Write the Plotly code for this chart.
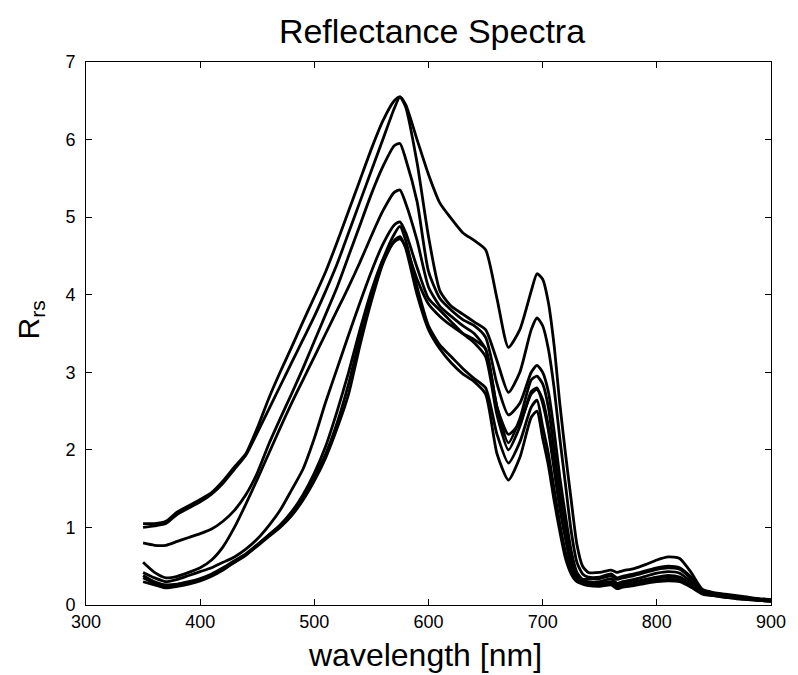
import plotly.graph_objects as go

wavelength = [350, 360, 370, 380, 390, 400, 410, 420, 430, 440, 450, 460, 470, 480, 490,
              500, 510, 520, 530, 540, 550, 560, 570, 575, 580, 590, 600, 610, 620, 630,
              640, 650, 660, 670, 680, 690, 695, 700, 705, 710, 715, 720, 725, 730, 735,
              740, 750, 760, 765, 770, 780, 790, 800, 810, 820, 830, 840, 850, 860, 870,
              880, 890, 900]

rrs_1 = [1.05, 1.05, 1.08, 1.20, 1.28, 1.36, 1.45, 1.60, 1.78, 1.95, 2.28, 2.66, 3.00, 3.32, 3.65,
         3.97, 4.30, 4.68, 5.08, 5.48, 5.88, 6.24, 6.50, 6.55, 6.45, 6.00, 5.55, 5.18, 4.98, 4.80,
         4.70, 4.58, 3.95, 3.32, 3.55, 4.05, 4.27, 4.20, 3.90, 3.35, 2.60, 1.95, 1.35, 0.78, 0.50,
         0.42, 0.42, 0.45, 0.42, 0.44, 0.47, 0.52, 0.58, 0.62, 0.60, 0.42, 0.20, 0.16, 0.14, 0.12,
         0.10, 0.08, 0.07]

rrs_2 = [1.00, 1.02, 1.05, 1.17, 1.25, 1.33, 1.43, 1.57, 1.75, 1.93, 2.22, 2.52, 2.82, 3.12, 3.42,
         3.72, 4.05, 4.40, 4.80, 5.20, 5.60, 6.00, 6.40, 6.55, 6.42, 5.70, 4.75, 4.05, 3.85, 3.75,
         3.65, 3.55, 3.15, 2.74, 3.00, 3.55, 3.70, 3.60, 3.30, 2.80, 2.15, 1.55, 0.95, 0.55, 0.40,
         0.36, 0.36, 0.40, 0.35, 0.37, 0.40, 0.44, 0.48, 0.50, 0.48, 0.36, 0.19, 0.15, 0.13, 0.11,
         0.09, 0.08, 0.065]

rrs_3 = [0.80, 0.77, 0.77, 0.82, 0.87, 0.92, 0.98, 1.08, 1.22, 1.42, 1.70, 2.07, 2.40, 2.72, 3.05,
         3.40, 3.75, 4.10, 4.50, 4.90, 5.30, 5.65, 5.92, 5.95, 5.75, 5.20, 4.30, 3.95, 3.80, 3.68,
         3.60, 3.45, 2.85, 2.45, 2.60, 3.00, 3.09, 3.00, 2.75, 2.25, 1.65, 1.15, 0.70, 0.42, 0.33,
         0.34, 0.34, 0.38, 0.33, 0.35, 0.38, 0.42, 0.46, 0.48, 0.46, 0.34, 0.18, 0.15, 0.12, 0.10,
         0.09, 0.07, 0.06]

rrs_4 = [0.55, 0.42, 0.35, 0.37, 0.42, 0.48, 0.58, 0.75, 1.00, 1.30, 1.62, 1.95, 2.28, 2.60, 2.90,
         3.20, 3.50, 3.80, 4.10, 4.42, 4.76, 5.08, 5.32, 5.35, 5.18, 4.70, 4.10, 3.85, 3.72, 3.60,
         3.50, 3.30, 2.55, 2.09, 2.40, 2.90, 2.95, 2.85, 2.55, 2.00, 1.45, 1.00, 0.62, 0.40, 0.32,
         0.30, 0.30, 0.34, 0.28, 0.30, 0.33, 0.37, 0.41, 0.43, 0.41, 0.30, 0.17, 0.14, 0.12, 0.10,
         0.08, 0.07, 0.06]

rrs_5 = [0.42, 0.35, 0.30, 0.33, 0.38, 0.43, 0.48, 0.55, 0.62, 0.72, 0.85, 1.02, 1.22, 1.48, 1.75,
         2.15, 2.62, 3.05, 3.48, 3.90, 4.30, 4.65, 4.90, 4.94, 4.80, 4.35, 3.95, 3.80, 3.65, 3.50,
         3.38, 3.20, 2.45, 2.00, 2.30, 2.75, 2.80, 2.60, 2.25, 1.75, 1.25, 0.85, 0.50, 0.35, 0.30,
         0.29, 0.28, 0.30, 0.26, 0.28, 0.30, 0.33, 0.36, 0.38, 0.36, 0.27, 0.16, 0.13, 0.11, 0.09,
         0.08, 0.06, 0.05]

rrs_6 = [0.38, 0.30, 0.26, 0.27, 0.30, 0.34, 0.40, 0.48, 0.57, 0.66, 0.78, 0.90, 1.02, 1.18, 1.38,
         1.65, 1.95, 2.35, 2.85, 3.45, 4.00, 4.45, 4.78, 4.88, 4.70, 4.10, 3.60, 3.35, 3.20, 3.05,
         2.92, 2.80, 2.20, 1.83, 2.10, 2.55, 2.64, 2.30, 1.95, 1.50, 1.05, 0.68, 0.45, 0.32, 0.28,
         0.27, 0.26, 0.28, 0.23, 0.25, 0.27, 0.30, 0.32, 0.33, 0.32, 0.24, 0.15, 0.12, 0.10, 0.09,
         0.07, 0.06, 0.05]

rrs_7 = [0.35, 0.28, 0.24, 0.26, 0.29, 0.33, 0.38, 0.46, 0.55, 0.64, 0.76, 0.88, 1.00, 1.15, 1.35,
         1.60, 1.90, 2.28, 2.72, 3.35, 3.92, 4.40, 4.70, 4.75, 4.60, 4.00, 3.55, 3.30, 3.12, 2.98,
         2.88, 2.72, 1.95, 1.61, 1.90, 2.42, 2.50, 2.15, 1.80, 1.35, 0.95, 0.60, 0.40, 0.30, 0.27,
         0.25, 0.24, 0.26, 0.21, 0.23, 0.25, 0.28, 0.30, 0.31, 0.30, 0.23, 0.14, 0.12, 0.10, 0.08,
         0.07, 0.06, 0.05]

rrs_8 = [0.30, 0.26, 0.22, 0.24, 0.27, 0.31, 0.37, 0.45, 0.55, 0.65, 0.77, 0.90, 1.03, 1.20, 1.42,
         1.70, 2.05, 2.50, 3.00, 3.55, 4.05, 4.45, 4.68, 4.72, 4.62, 4.20, 3.88, 3.72, 3.60, 3.50,
         3.42, 3.30, 2.55, 2.20, 2.35, 2.72, 2.78, 2.65, 2.30, 1.80, 1.30, 0.90, 0.55, 0.36, 0.30,
         0.28, 0.27, 0.29, 0.25, 0.27, 0.29, 0.32, 0.35, 0.36, 0.35, 0.26, 0.16, 0.13, 0.11, 0.09,
         0.08, 0.06, 0.05]

series = [rrs_1, rrs_2, rrs_3, rrs_4, rrs_5, rrs_6, rrs_7, rrs_8]

x_ticks = [300, 400, 500, 600, 700, 800, 900]
y_ticks = [0, 1, 2, 3, 4, 5, 6, 7]

FONT = "Liberation Sans, Arial, Helvetica, sans-serif"

fig = go.Figure()
for s in series:
    fig.add_trace(go.Scatter(x=wavelength, y=s, mode="lines",
                             line=dict(color="black", width=2.8, shape="spline", smoothing=0.6),
                             showlegend=False, hoverinfo="skip"))

axis_common = dict(showgrid=False, zeroline=False, showline=True, linecolor="black",
                   linewidth=1, mirror="allticks", ticks="inside", ticklen=6,
                   tickcolor="black", tickwidth=1,
                   tickfont=dict(family=FONT, size=18, color="black"))

fig.update_xaxes(range=[300, 900], tickvals=x_ticks, ticktext=[str(v) for v in x_ticks],
                 **axis_common)
fig.update_yaxes(range=[0, 7], tickvals=y_ticks, ticktext=[str(v) for v in y_ticks],
                 ticklabelstandoff=6, **axis_common)

fig.update_layout(
    width=798, height=675,
    margin=dict(l=86, r=19, t=62, b=70),
    paper_bgcolor="white", plot_bgcolor="white",
    title=dict(text="Reflectance Spectra", x=(432 / 798), xanchor="center",
               y=1 - 31 / 675, yanchor="middle",
               font=dict(family=FONT, size=34, color="black")),
    annotations=[
        dict(text="wavelength [nm]", xref="paper", yref="paper", x=0.495, y=-0.092,
             xanchor="center", yanchor="middle", showarrow=False,
             font=dict(family=FONT, size=32, color="black")),
        dict(text="R<sub>rs</sub>", xref="paper", yref="paper", x=-0.081, y=0.525,
             xanchor="center", yanchor="middle", showarrow=False, textangle=-90,
             font=dict(family=FONT, size=30, color="black")),
    ],
)

fig.write_html("out.html")
